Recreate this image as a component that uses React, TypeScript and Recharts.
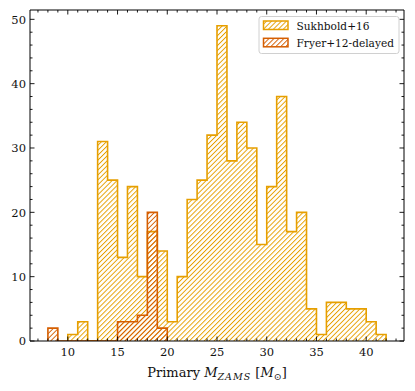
import { Area, ComposedChart, XAxis, YAxis } from 'recharts'

// histogram counts, one value per unit-wide bin starting at *_START
const SUK_START = 10
const SUK_COUNTS = [1, 3, 0, 31, 25, 13, 24, 10, 17, 14, 3, 10, 22, 25, 32, 49, 28, 34, 30, 15, 24, 38, 17, 20, 5, 1, 6, 6, 5, 5, 3, 1]
const FRY_START = 8
const FRY_COUNTS = [2, 0, 0, 0, 0, 0, 0, 3, 3, 4, 20, 2]

const X_MAJOR = [10, 15, 20, 25, 30, 35, 40]
const X_TICKS = [7, 8, 9, 10, 11, 12, 13, 14, 15, 16, 17, 18, 19, 20, 21, 22, 23, 24, 25, 26, 27, 28, 29, 30, 31, 32, 33, 34, 35, 36, 37, 38, 39, 40, 41, 42, 43]
const Y_MAJOR = [0, 10, 20, 30, 40, 50]
const Y_TICKS = [0, 2, 4, 6, 8, 10, 12, 14, 16, 18, 20, 22, 24, 26, 28, 30, 32, 34, 36, 38, 40, 42, 44, 46, 48, 50]

const SUK_COLOR = '#E69F00'
const FRY_COLOR = '#D55E00'
const FONT = '"DejaVu Serif", serif'
const FS = 11.5
const MAJOR_LEN = 4.5
const MINOR_LEN = 2.5

// step outline: closed at baseline on both ends
function toSteps(start: number, counts: number[]) {
  const rows = [{ x: start, v: 0 }]
  counts.forEach((c, i) => rows.push({ x: start + i, v: c }))
  rows.push({ x: start + counts.length, v: 0 })
  return rows
}

const sukData = toSteps(SUK_START, SUK_COUNTS)
const fryData = toSteps(FRY_START, FRY_COUNTS)

function Hatch({ id, color }: { id: string; color: string }) {
  return (
    <pattern id={id} patternUnits="userSpaceOnUse" width={3.5} height={3.5} patternTransform="rotate(45)">
      <line x1={0} y1={0} x2={0} y2={3.5} stroke={color} strokeWidth={1.9} />
    </pattern>
  )
}

function BottomTick({ x, y, payload }: any) {
  const major = X_MAJOR.includes(payload.value)
  return (
    <g>
      <line x1={x} x2={x} y1={y} y2={y - (major ? MAJOR_LEN : MINOR_LEN)} stroke="#000" strokeWidth={0.9} />
      {major && (
        <text x={x} y={y + 15} textAnchor="middle" style={{ fontFamily: FONT }} fontSize={FS} fill="#111">{payload.value}</text>
      )}
    </g>
  )
}

function TopTick({ x, y, payload }: any) {
  const major = X_MAJOR.includes(payload.value)
  return <line x1={x} x2={x} y1={y} y2={y + (major ? MAJOR_LEN : MINOR_LEN)} stroke="#000" strokeWidth={0.9} />
}

function LeftTick({ x, y, payload }: any) {
  const major = Y_MAJOR.includes(payload.value)
  return (
    <g>
      <line x1={x} x2={x + (major ? MAJOR_LEN : MINOR_LEN)} y1={y} y2={y} stroke="#000" strokeWidth={0.9} />
      {major && (
        <text x={x - 4} y={y + 4.2} textAnchor="end" style={{ fontFamily: FONT }} fontSize={FS} fill="#111">{payload.value}</text>
      )}
    </g>
  )
}

function RightTick({ x, y, payload }: any) {
  const major = Y_MAJOR.includes(payload.value)
  return <line x1={x} x2={x - (major ? MAJOR_LEN : MINOR_LEN)} y1={y} y2={y} stroke="#000" strokeWidth={0.9} />
}

export default function App() {
  const axisLine = { stroke: '#000', strokeWidth: 1 }
  return (
    <div style={{ position: 'fixed', left: 0, top: 0, width: 415, height: 391, background: '#fff', fontFamily: FONT }}>
      <ComposedChart width={415} height={391} margin={{ top: 9, right: 10, left: 0, bottom: 0 }}>
        <defs>
          <Hatch id="hatch-suk" color={SUK_COLOR} />
          <Hatch id="hatch-fry" color={FRY_COLOR} />
        </defs>
        <XAxis xAxisId="b" type="number" dataKey="x" domain={[6.2, 43.8]} allowDataOverflow ticks={X_TICKS} interval={0}
          tickSize={0} tickMargin={0} tickLine={false} axisLine={axisLine} height={50} tick={(p: any) => <BottomTick {...p} />} />
        <XAxis xAxisId="t" orientation="top" type="number" dataKey="x" domain={[6.2, 43.8]} allowDataOverflow ticks={X_TICKS} interval={0}
          tickSize={0} tickMargin={0} tickLine={false} axisLine={axisLine} height={1} tick={(p: any) => <TopTick {...p} />} />
        <YAxis yAxisId="l" type="number" domain={[0, 51.45]} allowDataOverflow ticks={Y_TICKS} interval={0}
          tickSize={0} tickMargin={0} tickLine={false} axisLine={axisLine} width={30} tick={(p: any) => <LeftTick {...p} />} />
        <YAxis yAxisId="r" orientation="right" type="number" domain={[0, 51.45]} allowDataOverflow ticks={Y_TICKS} interval={0}
          tickSize={0} tickMargin={0} tickLine={false} axisLine={axisLine} width={1} tick={(p: any) => <RightTick {...p} />} />
        <Area xAxisId="b" yAxisId="l" data={sukData} dataKey="v" type="stepAfter" stroke={SUK_COLOR} strokeWidth={1.6}
          fill="url(#hatch-suk)" fillOpacity={1} baseValue={0} dot={false} activeDot={false} isAnimationActive={false} />
        <Area xAxisId="b" yAxisId="l" data={fryData} dataKey="v" type="stepAfter" stroke={FRY_COLOR} strokeWidth={1.6}
          fill="url(#hatch-fry)" fillOpacity={1} baseValue={0} dot={false} activeDot={false} isAnimationActive={false} />
      </ComposedChart>
      <svg width={415} height={391} style={{ position: 'absolute', left: 0, top: 0, pointerEvents: 'none', fontFamily: FONT }}>
        <defs>
          <Hatch id="leg-suk" color={SUK_COLOR} />
          <Hatch id="leg-fry" color={FRY_COLOR} />
        </defs>
        <rect x={259} y={16.5} width={140} height={37} rx={2.5} fill="#fff" fillOpacity={0.8} stroke="#d0d0d0" strokeWidth={1} />
        <rect x={263.5} y={21} width={24.5} height={8.5} fill="url(#leg-suk)" stroke={SUK_COLOR} strokeWidth={1.5} />
        <text x={296.5} y={29.5} fontSize={10.6} fill="#111">Sukhbold+16</text>
        <rect x={263.5} y={38.3} width={24.5} height={8.5} fill="url(#leg-fry)" stroke={FRY_COLOR} strokeWidth={1.5} />
        <text x={296.5} y={46.8} fontSize={10.6} fill="#111">Fryer+12-delayed</text>
        <text x={217} y={377} textAnchor="middle" fontSize={13} fill="#111">
          <tspan>Primary </tspan>
          <tspan fontStyle="italic">M</tspan>
          <tspan fontStyle="italic" fontSize={9.5} dy={2.5} letterSpacing={1}>ZAMS</tspan>
          <tspan dy={-2.5}> [</tspan>
          <tspan fontStyle="italic">M</tspan>
          <tspan fontSize={9.5} dy={2.5}>⊙</tspan>
          <tspan dy={-2.5}>]</tspan>
        </text>
      </svg>
    </div>
  )
}
